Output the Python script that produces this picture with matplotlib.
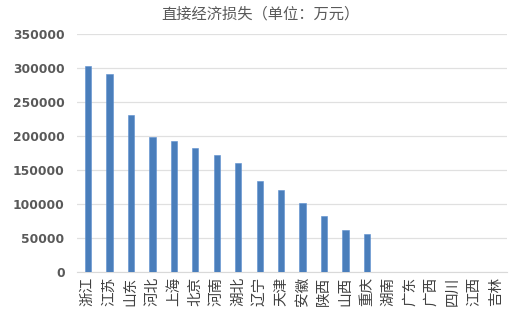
import numpy as np
import matplotlib.pyplot as plt

plt.rcParams['font.family'] = ['Noto Sans CJK SC', 'DejaVu Sans']

# 省份及直接经济损失（万元）
provinces = ['浙江', '江苏', '山东', '河北', '上海', '北京', '河南', '湖北', '辽宁', '天津',
             '安徽', '陕西', '山西', '重庆', '湖南', '广东', '广西', '四川', '江西', '吉林']
losses = [303800, 291600, 230900, 199000, 193200, 182900, 172000, 160700, 133600, 121200,
          101500, 82300, 62600, 55700, 1000, 800, 300, 200, 200, 100]
yticks = [0, 50000, 100000, 150000, 200000, 250000, 300000, 350000]

fig = plt.figure(figsize=(5.14, 3.10), dpi=100)
ax = fig.add_axes([0.150, 0.122, 0.836, 0.767])

x = np.arange(len(provinces))
ax.bar(x, losses, width=0.3, color='#4a7ebb', edgecolor='#5b8fd0', linewidth=0.4, zorder=3)

ax.set_xlim(-0.5, len(provinces) - 0.5)
ax.set_ylim(0, 350000)
ax.set_yticks(yticks)
ax.set_yticklabels([str(v) for v in yticks], fontsize=8.8, fontweight='bold',
                   color='#595959', family=['DejaVu Sans'])
ax.set_xticks(x)
ax.set_xticklabels(provinces, rotation=90, fontsize=10.5, color='#404040')

ax.grid(axis='y', color='#e0e0e0', linewidth=0.9, zorder=0)
for s in ['top', 'right', 'left']:
    ax.spines[s].set_visible(False)
ax.spines['bottom'].set_color('#d9d9d9')
ax.tick_params(axis='x', length=0, pad=3)
ax.tick_params(axis='y', length=0, pad=9)

fig.text(0.506, 0.955, '直接经济损失（单位：万元）', ha='center', va='center',
         fontsize=11, fontweight='medium', color='#595959')

fig.savefig('out.png', dpi=100)
